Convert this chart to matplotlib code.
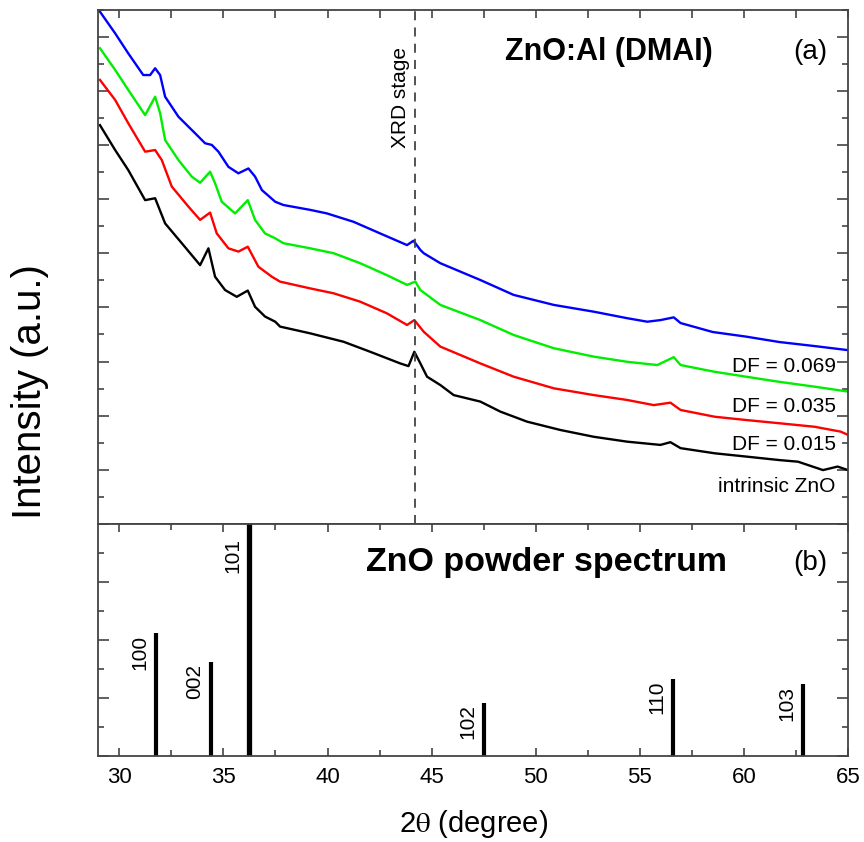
import numpy as np
import matplotlib
matplotlib.use("Agg")
import matplotlib.pyplot as plt
from matplotlib.ticker import MultipleLocator

plt.rcParams['font.family'] = ['Liberation Sans', 'DejaVu Sans']
plt.rcParams['mathtext.fontset'] = 'stix'

# --- panel (a): XRD scans (arbitrary offset units) ---
x_blue = [29.07, 29.8, 30.43, 31.15, 31.48, 31.72, 31.96, 32.2, 32.84, 33.64, 34.12, 34.44, 34.76,
          35.24, 35.72, 36.2, 36.52, 36.85, 37.49, 37.88, 39.17, 39.97, 41.25, 42.53, 43.82,
          44.13, 44.46, 44.62, 45.42, 47.34, 48.94, 50.87, 52.79, 54.39, 55.36, 55.99, 56.63,
          56.96, 58.5, 60.1, 61.7, 63.4, 65.0]
y_blue = [18.92, 18.12, 17.38, 16.58, 16.58, 16.83, 16.58, 15.78, 15.04, 14.43, 14.06, 14.0, 13.75,
          13.19, 12.95, 13.13, 12.83, 12.33, 11.9, 11.78, 11.6, 11.47, 11.16, 10.73, 10.3,
          10.46, 10.12, 10.0, 9.63, 9.01, 8.46, 8.09, 7.84, 7.6, 7.47, 7.53, 7.63,
          7.42, 7.09, 6.92, 6.72, 6.57, 6.42]

x_green = [29.07, 29.8, 30.43, 31.24, 31.72, 31.96, 32.2, 32.84, 33.48, 33.88, 34.36, 34.6, 34.92,
           35.56, 36.17, 36.52, 37.0, 37.49, 37.88, 39.17, 40.29, 41.57, 42.85, 43.82, 44.22,
           44.46, 45.42, 47.34, 48.94, 50.87, 52.79, 54.39, 55.84, 56.63, 56.96, 58.6, 60.1,
           61.7, 63.4, 65.0]
y_green = [17.57, 16.77, 16.03, 15.1, 15.78, 15.17, 14.18, 13.44, 12.83, 12.6, 13.01, 12.58, 11.9,
           11.47, 11.96, 11.23, 10.73, 10.55, 10.37, 10.18, 10.0, 9.63, 9.19, 8.83, 8.95,
           8.64, 8.09, 7.53, 6.98, 6.49, 6.18, 5.99, 5.87, 6.16, 5.87, 5.62, 5.44,
           5.25, 5.07, 4.89]

x_red = [29.07, 29.8, 30.43, 31.24, 31.72, 32.04, 32.52, 33.32, 33.88, 34.36, 34.68, 35.24, 35.72,
         36.17, 36.68, 37.33, 37.72, 39.17, 40.29, 41.57, 42.85, 43.82, 44.17, 44.62, 45.42,
         47.34, 48.94, 50.87, 52.79, 54.39, 55.67, 56.47, 56.96, 58.6, 60.1, 61.7, 63.4,
         64.65, 65.0]
y_red = [16.4, 15.66, 14.8, 13.75, 13.81, 13.44, 12.46, 11.72, 11.23, 11.5, 10.73, 10.18, 10.06,
         10.24, 9.5, 9.13, 8.95, 8.7, 8.52, 8.21, 7.78, 7.35, 7.53, 7.1, 6.55,
         5.93, 5.44, 5.01, 4.76, 4.58, 4.39, 4.48, 4.21, 3.96, 3.84, 3.72, 3.59,
         3.41, 3.29]

x_black = [29.07, 29.8, 30.43, 31.24, 31.72, 32.2, 33.0, 33.88, 34.28, 34.6, 35.08, 35.64, 36.17,
           36.52, 37.0, 37.49, 37.72, 39.17, 40.77, 42.05, 43.49, 43.89, 44.17, 44.46, 44.78,
           45.42, 46.06, 47.34, 48.3, 49.58, 51.19, 52.79, 54.39, 55.99, 56.47, 56.96, 58.6,
           60.1, 61.7, 62.6, 63.8, 64.5, 65.0]
y_black = [14.73, 13.81, 13.07, 11.96, 12.03, 11.1, 10.37, 9.56, 10.18, 9.13, 8.64, 8.39, 8.62,
           8.02, 7.66, 7.47, 7.29, 7.04, 6.73, 6.36, 5.93, 5.83, 6.36, 5.93, 5.44,
           5.13, 4.76, 4.52, 4.15, 3.78, 3.47, 3.22, 3.04, 2.92, 3.02, 2.8, 2.61,
           2.49, 2.36, 2.3, 1.99, 2.12, 1.99]

labels = ['DF = 0.069', 'DF = 0.035', 'DF = 0.015', 'intrinsic ZnO']
label_y = [5.83, 4.33, 2.95, 1.38]
xrd_stage = 44.2

# --- panel (b): ZnO powder reference ---
peak_pos = [31.77, 34.42, 36.25, 47.54, 56.60, 62.86]
peak_int = [4.23, 3.23, 8.6, 1.84, 2.66, 2.47]
peak_hkl = ['100', '002', '101', '102', '110', '103']

fig = plt.figure(figsize=(8.64, 8.42), dpi=100)
L, R = 0.114, 0.9815
ax1 = fig.add_axes([L, 0.3777, R - L, 0.9887 - 0.3777])
ax2 = fig.add_axes([L, 0.1021, R - L, 0.3777 - 0.1021], sharex=ax1)

ax1.plot(x_blue, y_blue, color='#0000ff', lw=1.7)
ax1.plot(x_green, y_green, color='#00ee00', lw=1.7)
ax1.plot(x_red, y_red, color='#ff0000', lw=1.7)
ax1.plot(x_black, y_black, color='black', lw=1.7)
ax1.axvline(xrd_stage, color='#444444', lw=1.3, ls=(0, (5, 4)))

for lab, yy in zip(labels, label_y):
    ax1.text(64.4, yy, lab, ha='right', va='center', fontsize=15)

ax1.text(43.5, 15.75, 'XRD stage', rotation=90, ha='center', va='center', fontsize=15)
ax1.text(53.5, 17.43, 'ZnO:Al (DMAI)', ha='center', va='center', fontsize=22, fontweight='bold')
ax1.text(63.2, 17.43, '(a)', ha='center', va='center', fontsize=20)

ax1.set_xlim(29, 65)
ax1.set_ylim(0, 19)
ax1.yaxis.set_major_locator(MultipleLocator(2))
ax1.yaxis.set_minor_locator(MultipleLocator(1))
ax1.tick_params(axis='y', which='both', direction='in', left=True, right=True,
                labelleft=False, color='#444444')
ax1.tick_params(axis='y', which='major', length=8, width=1.2)
ax1.tick_params(axis='y', which='minor', length=4, width=1.2)
ax1.tick_params(axis='x', which='both', direction='in', top=True, bottom=False,
                labelbottom=False, length=6, width=1.2, color='#444444')

# reference bars
for p, h, hkl in zip(peak_pos, peak_int, peak_hkl):
    ax2.vlines(p, 0, h, color='black', lw=3.8 if hkl == '101' else 3.0)
    ax2.annotate(hkl, (p, min(h, 7.55)), xytext=(-5, -1), textcoords='offset points',
                 rotation=90, ha='right', va='top', fontsize=15)

ax2.text(50.5, 6.66, 'ZnO powder spectrum', ha='center', va='center', fontsize=24.5, fontweight='bold')
ax2.text(63.2, 6.66, '(b)', ha='center', va='center', fontsize=20)

ax2.set_ylim(0, 8)
ax2.yaxis.set_major_locator(MultipleLocator(2))
ax2.yaxis.set_minor_locator(MultipleLocator(1))
ax2.xaxis.set_major_locator(MultipleLocator(5))
ax2.xaxis.set_minor_locator(MultipleLocator(2.5))
ax2.tick_params(axis='y', which='both', direction='in', left=True, right=True,
                labelleft=False, color='#444444', width=1.2)
ax2.tick_params(axis='y', which='major', length=8)
ax2.tick_params(axis='y', which='minor', length=4)
ax2.tick_params(axis='x', which='both', direction='in', top=True, bottom=True,
                color='#444444', width=1.2, labelsize=16, pad=8)
ax2.tick_params(axis='x', which='major', length=6)
ax2.tick_params(axis='x', which='minor', length=4.5)
ax2.set_xlabel(r'2$\mathrm{\theta}$ (degree)', fontsize=21, labelpad=14)

for ax in (ax1, ax2):
    for s in ax.spines.values():
        s.set_color('#444444')
        s.set_linewidth(1.3)

fig.text(0.035, 1 - 392 / 842, 'Intensity (a.u.)', rotation=90, ha='center', va='center', fontsize=29)

fig.savefig('out.png', dpi=100)
